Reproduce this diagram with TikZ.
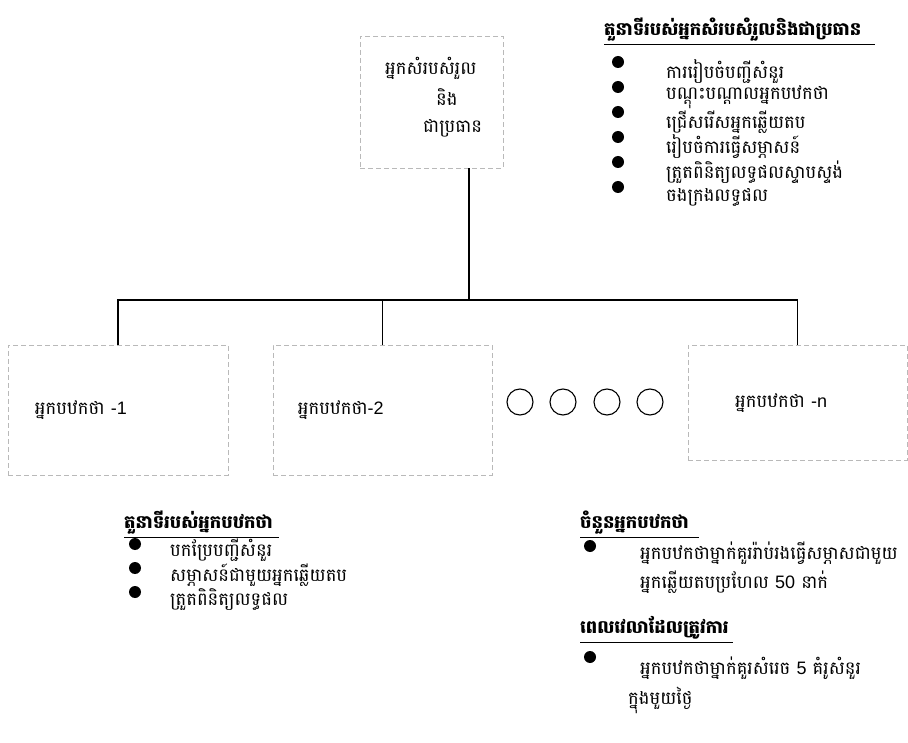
\documentclass[tikz,border=0pt]{standalone}
\usepackage{fontspec}
\setmainfont{Liberation Sans}
\newfontfamily\kh[Script=Khmer]{Battambang}
\usetikzlibrary{positioning}

\tikzset{
  box/.style={draw=gray!55, dash pattern=on 5pt off 3pt, line width=0.6pt},
  tree/.style={line width=1.6pt},
  kt/.style={font=\kh\fontsize{18}{22}\selectfont, inner sep=0pt, anchor=west},
  head/.style={kt, font=\kh\bfseries\fontsize{18}{22}\selectfont},
  uline/.style={line width=0.9pt},
  dot/.style={circle, fill=black, inner sep=0pt, minimum size=12pt},
  ring/.style={circle, draw, line width=1.1pt, minimum size=26pt, inner sep=0pt}
}

\begin{document}
\begin{tikzpicture}[x=1pt,y=-1pt]
    \useasboundingbox (0,0) rectangle (908,743);

    % leader box
    \node[box, minimum width=143pt, minimum height=132pt] (lead) at (431.5,102) {};
    \node[kt] (lead1) at (385,68)  {អ្នកសំរបសំរួល};
    \node[kt] (lead2) at (436,97)  {និង};
    \node[kt] (lead3) at (423,128) {ជាប្រធាន};

    % speaker boxes
    \node[box, minimum width=220pt, minimum height=130pt] (sp1) at (118,410)   {};
    \node[box, minimum width=219pt, minimum height=130pt] (sp2) at (382.5,410) {};
    \node[box, minimum width=219pt, minimum height=115pt] (spn) at (797.5,402.5) {};
    \node[kt] (sp1t) [right=27pt of sp1.west] {អ្នកបឋកថា {\normalfont -1}};
    \node[kt] (sp2t) [right=25pt of sp2.west] {អ្នកបឋកថា{\normalfont -2}};
    \node[kt] (spnt) at (735,403) {អ្នកបឋកថា {\normalfont -n}};
    \foreach \x [count=\i] in {520,563,607,650}
        \node[ring] (dots\i) at (\x,402) {};

    % tree
    \coordinate (hub) at (469,300);
    \draw[tree] (lead.south -| hub) -- (hub);
    \draw[tree] (sp1.north) |- (hub) -| (spn.north);
    \draw[tree] (sp2.north) -- (sp2.north |- hub);

    % duties of the leader
    \node[head] (dutyL) at (604,30) {តួនាទីរបស់អ្នកសំរបសំរួលនិងជាប្រធាន};
    \draw[uline] ([yshift=-3pt]dutyL.south west) -- ([xshift=14pt,yshift=-3pt]dutyL.south east);
    \foreach \t [count=\i] in {ការរៀបចំបញ្ជីសំនួរ, បណ្តុះបណ្តាលអ្នកបឋកថា, ជ្រើសរើសអ្នកឆ្លើយតប,
                               រៀបចំការធ្វើសម្ភាសន៍, ត្រួតពិនិត្យលទ្ធផលស្ទាបស្ទង់, ចងក្រងលទ្ធផល} {
        \node[dot] (bL\i) at (618,37+25*\i) {};
        \node[kt]  (tL\i) at (666,47+25*\i) {\t};
    }

    % duties of the speakers
    \node[head] (dutyS) at (124,523) {តួនាទីរបស់អ្នកបឋកថា};
    \draw[uline] ([yshift=-3pt]dutyS.south west) -- ([xshift=6pt,yshift=-3pt]dutyS.south east);
    \foreach \t [count=\i] in {បកប្រែបញ្ជីសំនួរ, សម្ភាសន៍ជាមួយអ្នកឆ្លើយតប, ត្រួតពិនិត្យលទ្ធផល} {
        \node[dot] (bS\i) at (135,520+24*\i) {};
        \node[kt]  (tS\i) at (170,525+25*\i) {\t};
    }

    % number of speakers
    \node[head] (count) at (580,523) {ចំនួនអ្នកបឋកថា};
    \draw[uline] ([yshift=-3pt]count.south west) -- ([xshift=10pt,yshift=-3pt]count.south east);
    \node[dot] (bC) at (590,546) {};
    \node[kt]  (tC1) at (640,553) {អ្នកបឋកថាម្នាក់គួររ៉ាប់រងធ្វើសម្ភាសជាមួយ};
    \node[kt]  (tC2) at (640,582) {អ្នកឆ្លើយតបប្រហែល {\normalfont 50} នាក់};

    % time needed
    \node[head] (time) at (580,628) {ពេលវេលាដែលត្រូវការ};
    \draw[uline] ([yshift=-3pt]time.south west) -- ([xshift=4pt,yshift=-3pt]time.south east);
    \node[dot] (bT) at (590,657) {};
    \node[kt]  (tT1) at (640,668) {អ្នកបឋកថាម្នាក់គួរសំរេច {\normalfont 5} គំរូសំនួរ};
    \node[kt]  (tT2) at (628,700) {ក្នុងមួយថ្ងៃ};
\end{tikzpicture}
\end{document}
